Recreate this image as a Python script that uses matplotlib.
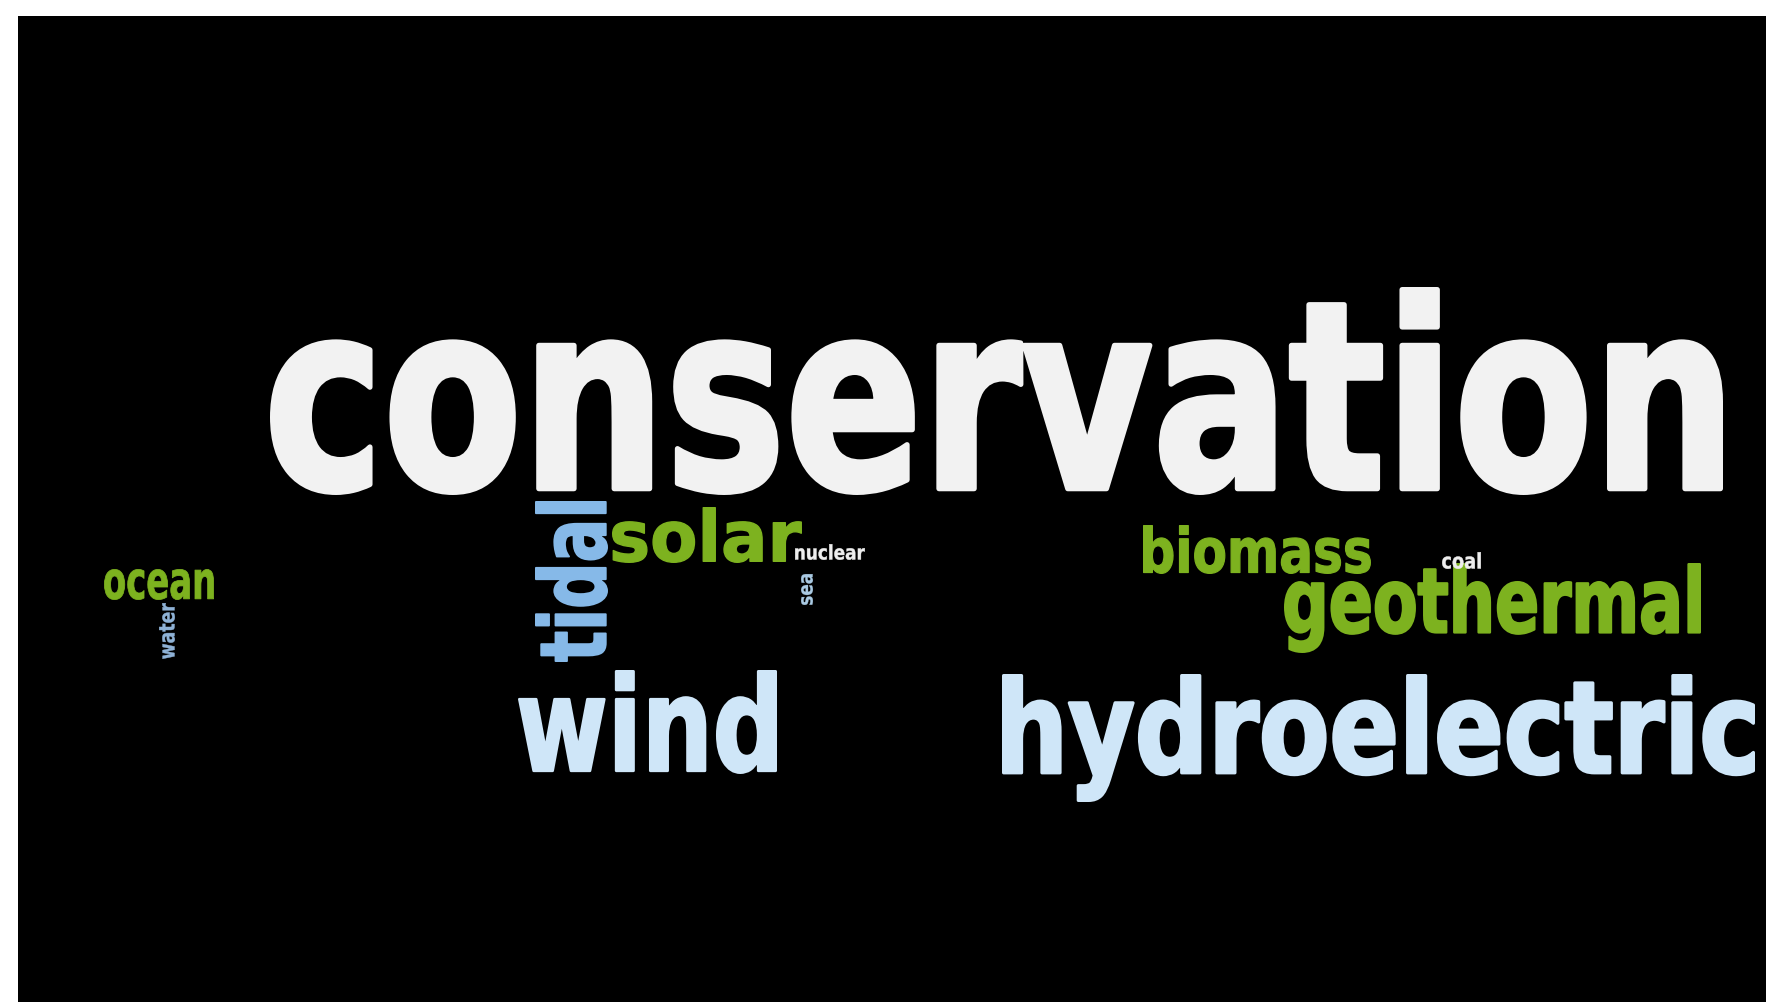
import numpy as np
import matplotlib
matplotlib.use("Agg")
import matplotlib.pyplot as plt
from matplotlib.textpath import TextPath
from matplotlib.font_manager import FontProperties
from matplotlib.patches import PathPatch, Rectangle
from matplotlib.transforms import Affine2D

# word cloud data
words = ["conservation", "hydroelectric", "wind", "geothermal", "solar", "biomass",
         "tidal", "ocean", "nuclear", "coal", "sea", "water"]
weights = [100, 60, 50, 40, 30, 28, 30, 14, 8, 6, 5, 6]
colors = ["#f2f2f2", "#cfe6f8", "#cfe6f8", "#7db21f", "#7db21f", "#7db21f",
          "#86b9e8", "#7db21f", "#eeeeee", "#eeeeee", "#a9c9e2", "#8fb2d6"]
vertical = [False, False, False, False, False, False,
            True, False, False, False, True, True]

# layout: ink box of each word in pixels (left, top, right, bottom)
boxes = [
    (270, 287, 1723, 495),
    (1002, 674, 1755, 802),
    (518, 670, 777, 774),
    (1284, 563, 1701, 653),
    (612, 507, 802, 563),
    (1143, 525, 1371, 574),
    (535, 501, 608, 662),
    (104, 569, 214, 600),
    (795, 544, 865, 560),
    (1442, 552, 1481, 569),
    (801, 574, 813, 605),
    (159, 603, 175, 659),
]

W, H = 1766, 1002
fig = plt.figure(figsize=(W / 100, H / 100), dpi=100, facecolor="white")
ax = fig.add_axes([0, 0, 1, 1])
ax.set_xlim(0, W)
ax.set_ylim(H, 0)
ax.axis("off")
ax.add_patch(Rectangle((18, 16), W - 18, H - 16, facecolor="black", edgecolor="none"))

prop = FontProperties(family="DejaVu Sans", weight="bold")
for word, col, vert, (x0, y0, x1, y1) in zip(words, colors, vertical, boxes):
    path = TextPath((0, 0), word, size=100, prop=prop)
    if vert:
        path = Affine2D().rotate_deg(90).transform_path(path)
    # slightly heavier strokes, closer to the display face of the original
    across = (x1 - x0) if vert else (y1 - y0)
    t = 0.025 * across
    x0, y0, x1, y1 = x0 + t / 2, y0 + t / 2, x1 - t / 2, y1 - t / 2
    ext = path.get_extents()
    sx = (x1 - x0) / ext.width
    sy = (y1 - y0) / ext.height
    tr = (Affine2D().translate(-ext.x0, -ext.y0)
          .scale(sx, -sy).translate(x0, y1))
    path = tr.transform_path(path)
    ax.add_patch(PathPatch(path, facecolor=col, edgecolor=col,
                           linewidth=t * 72 / 100, joinstyle="round"))

fig.savefig("out.png", dpi=100, facecolor="white")
